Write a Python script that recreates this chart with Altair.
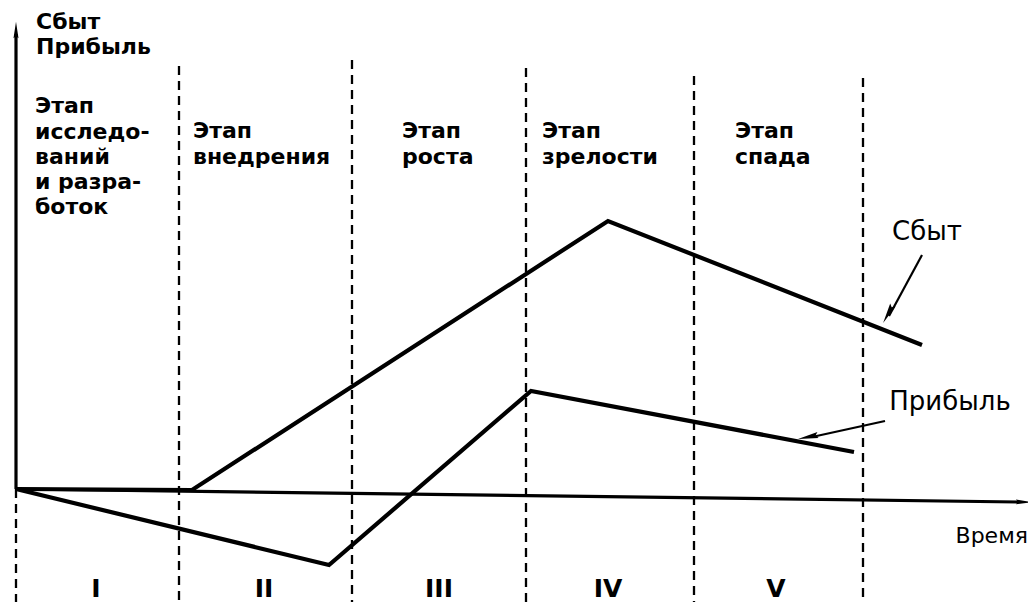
import altair as alt
import pandas as pd

# ---- data (page-pixel units; y grows downwards) ----
sales_x = [16, 192, 608, 922]
sales_y = [489, 490, 221, 345]
profit_x = [16, 329, 531, 854]
profit_y = [489, 565, 391, 452]

stage_bounds_x = [179, 352, 526, 694, 863]
stage_bounds_top = [66, 60, 68, 76, 78]
bottom_y = 602

roman = ["I", "II", "III", "IV", "V"]
roman_x = [96, 264, 439, 608, 776]

stage1_lines = ["Этап", "исследо-", "ваний", "и разра-", "боток"]
stage1_y = [113, 139, 164, 189, 214]
stage_lines = [["Этап", "внедрения"], ["Этап", "роста"], ["Этап", "зрелости"], ["Этап", "спада"]]
stage_x = [193, 402, 542, 735]
stage_y = [138, 164]

# axes geometry
y_axis = dict(x=16, y=489, x2=16, y2=34)
x_axis = dict(x=16, y=489, x2=1018, y2=502)

X = alt.Scale(domain=[8, 1028], nice=False, zero=False)
Y = alt.Scale(domain=[8, 602], reverse=True, nice=False, zero=False)

def xe(f="x"):
    return alt.X(f"{f}:Q", scale=X, axis=None)

def ye(f="y"):
    return alt.Y(f"{f}:Q", scale=Y, axis=None)

# dashed stage boundaries
dash_df = pd.DataFrame({
    "x": [16] + stage_bounds_x,
    "y": [489] + stage_bounds_top,
    "y2": [bottom_y] * (len(stage_bounds_x) + 1),
})
dashes = alt.Chart(dash_df).mark_rule(color="black", strokeWidth=2.3, strokeDash=[9, 6]).encode(
    x=xe(), y=ye(), y2="y2:Q"
)

# axes
axes_df = pd.DataFrame([y_axis, x_axis])
axes = alt.Chart(axes_df).mark_rule(color="black", strokeWidth=3.2).encode(
    x=xe(), y=ye(), x2="x2:Q", y2="y2:Q"
)

# curves
curves_df = pd.DataFrame({
    "x": sales_x + profit_x,
    "y": sales_y + profit_y,
    "series": ["Сбыт"] * len(sales_x) + ["Прибыль"] * len(profit_x),
    "order": list(range(len(sales_x))) + list(range(len(profit_x))),
})
curves = alt.Chart(curves_df).mark_line(color="black", strokeWidth=4.2, strokeJoin="miter").encode(
    x=xe(), y=ye(), detail="series:N", order="order:Q"
)

# label pointer lines
ptr_df = pd.DataFrame({
    "x": [922, 885], "y": [255, 421], "x2": [889, 812], "y2": [316, 437],
})
pointers = alt.Chart(ptr_df).mark_rule(color="black", strokeWidth=2.2).encode(
    x=xe(), y=ye(), x2="x2:Q", y2="y2:Q"
)

# arrowheads
arrow_shape = "M0,-1L0.3,1L0,0.75L-0.3,1Z"
heads_df = pd.DataFrame({
    "x": [16, 1024, 888, 808],
    "y": [30, 502, 314, 437],
    "angle": [0, 90.8, 208.5, 258.5],
    "size": [280, 260, 420, 420],
})
heads = alt.Chart(heads_df).mark_point(shape=arrow_shape, filled=True, color="black", opacity=1,
                                       strokeWidth=0).encode(
    x=xe(), y=ye(), angle=alt.Angle("angle:Q", scale=None), size=alt.Size("size:Q", scale=None)
)

# text
def text_layer(df, **kw):
    return alt.Chart(df).mark_text(color="black", baseline="alphabetic", **kw).encode(
        x=xe(), y=ye(), text="t:N"
    )

top_df = pd.DataFrame({"x": [36, 36], "y": [29, 54], "t": ["Сбыт", "Прибыль"]})
stage_rows = [{"x": 35, "y": yy, "t": t} for t, yy in zip(stage1_lines, stage1_y)]
for lines, sx in zip(stage_lines, stage_x):
    for t, yy in zip(lines, stage_y):
        stage_rows.append({"x": sx, "y": yy, "t": t})
stage_df = pd.DataFrame(stage_rows)
roman_df = pd.DataFrame({"x": roman_x, "y": [597] * 5, "t": roman})
right_df = pd.DataFrame({"x": [927, 950], "y": [240, 410], "t": ["Сбыт", "Прибыль"]})
time_df = pd.DataFrame({"x": [1028], "y": [543], "t": ["Время"]})

t_top = text_layer(top_df, font="DejaVu Sans", fontWeight="bold", fontSize=22, align="left")
t_stage = text_layer(stage_df, font="DejaVu Sans", fontWeight="bold", fontSize=22, align="left")
t_roman = text_layer(roman_df, font="DejaVu Sans", fontWeight="bold", fontSize=25, align="center")
t_right = text_layer(right_df, font="DejaVu Sans", fontSize=26, align="center")
t_time = text_layer(time_df, font="DejaVu Sans", fontWeight=500, fontSize=22, align="right")

chart = alt.layer(
    dashes, axes, curves, pointers, heads, t_top, t_stage, t_roman, t_right, t_time
).properties(
    width=1020, height=594, padding=0, background="white",
    autosize=alt.AutoSizeParams(type="none"),
).configure_view(stroke=None)

chart.save("out.html", embed_options={"renderer": "svg", "actions": False})
